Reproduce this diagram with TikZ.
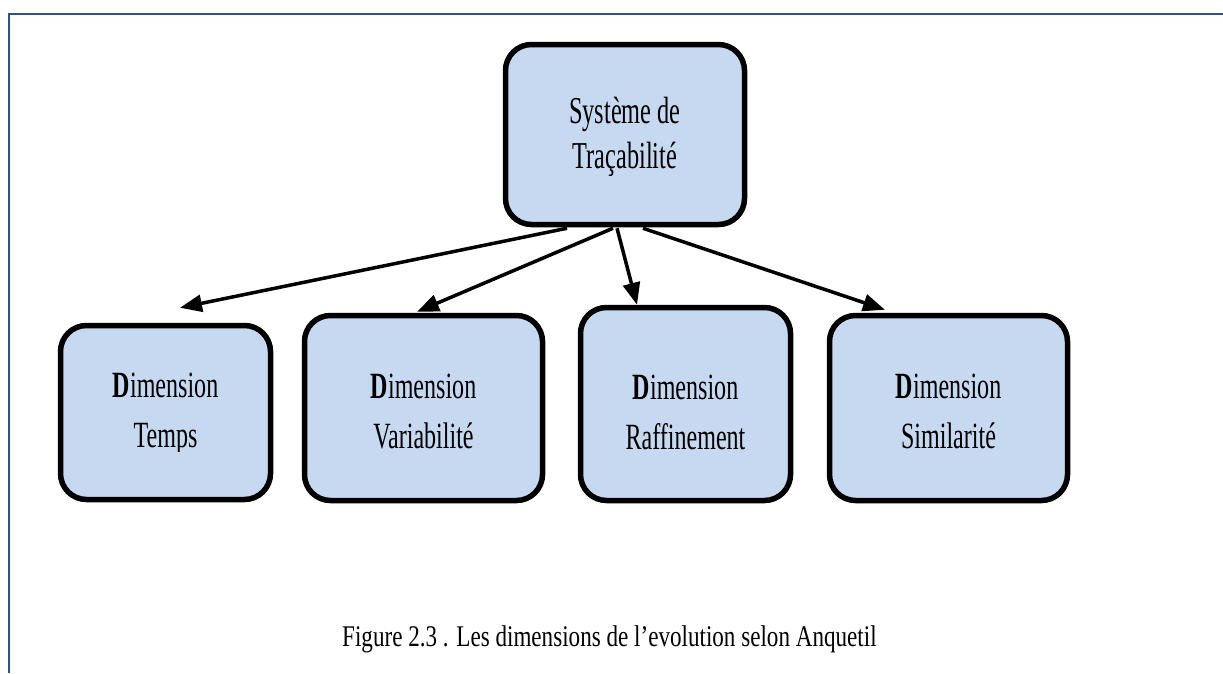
\documentclass[tikz,border=0pt]{standalone}
\usepackage{fontspec}
\newfontfamily\narrowserif[FakeStretch=0.65]{Liberation Serif}
\newfontfamily\rootserif[FakeStretch=0.64]{Liberation Serif}
\newfontfamily\captionserif[FakeStretch=0.77]{Liberation Serif}
\usetikzlibrary{arrows.meta,calc}
\definecolor{boxfill}{HTML}{C6D9F1}
\definecolor{frameblue}{HTML}{2C528C}
\begin{document}
\begin{tikzpicture}[x=1pt,y=-1pt,
  dimbox/.style={draw=black, line width=5.5pt, fill=boxfill, rounded corners=26pt, inner sep=0pt},
  boxtext/.style={align=center, inner sep=0pt, font=\narrowserif\fontsize{37}{50}\selectfont},
  toptext/.style={align=center, inner sep=0pt, font=\rootserif\fontsize{38}{45}\selectfont},
  link/.style={line width=3.5pt, -{Triangle[length=22pt,width=17pt]}},
  frameline/.style={draw=frameblue, line width=2.2pt},
]
\useasboundingbox (0,0) rectangle (1223,673);

% frame around the figure
\coordinate (fbl) at (9,673);
\coordinate (ftl) at (9,14);
\coordinate (ftr) at (1223,14);
\draw[frameline] (fbl) -- (ftl) -- (ftr);

% root box
\node[dimbox, minimum width=239pt, minimum height=180pt] (sys) at (625,134.5) {};
\node[toptext] (syslbl) at (625,136.6) {Système de\\Traçabilité};

% the four dimension boxes
\node[dimbox, minimum width=210pt, minimum height=174pt] (temps) at (165.5,412.5) {};
\node[dimbox, minimum width=238pt, minimum height=185pt] (vari) at (423.5,408) {};
\node[dimbox, minimum width=210pt, minimum height=193pt] (raff) at (685.5,404) {};
\node[dimbox, minimum width=238pt, minimum height=185pt] (simi) at (948.5,408) {};

% the lower line of this label is cut off by its text frame
\begin{scope}
  \clip (60,330) rectangle (270,451);
  \node[boxtext] (tempslbl) at (165.5,414) {{\bfseries D}imension\\Temps};
\end{scope}
\node[boxtext] (varilbl) at (423.5,411.5) {{\bfseries D}imension\\Variabilité};
\node[boxtext] (rafflbl) at (685.5,412.5) {{\bfseries D}imension\\Raffinement};
\node[boxtext] (similbl) at (948.5,411.5) {{\bfseries D}imension\\Similarité};

% connectors from the root box
\coordinate (s1) at ($(sys.south)+(-58,1)$);
\coordinate (s2) at ($(sys.south)+(-12,1)$);
\coordinate (s3) at ($(sys.south)+(-8,1)$);
\coordinate (s4) at ($(sys.south)+(18,1)$);
\coordinate (e1) at ($(temps.north)+(14.5,-15)$);
\coordinate (e2) at ($(vari.north)+(-6.5,-1)$);
\coordinate (e3) at ($(raff.north)+(-48.5,0)$);
\coordinate (e4) at ($(simi.north)+(-63.5,-3)$);
\draw[link] (s1) -- (e1);
\draw[link] (s2) -- (e2);
\draw[link] (s3) -- (e3);
\draw[link] (s4) -- (e4);

% caption
\node[anchor=base west, inner sep=0pt, font=\captionserif\fontsize{30}{34}\selectfont] (caption) at (342,646)
  {Figure 2.3 . Les dimensions de l’evolution selon Anquetil};
\end{tikzpicture}
\end{document}
